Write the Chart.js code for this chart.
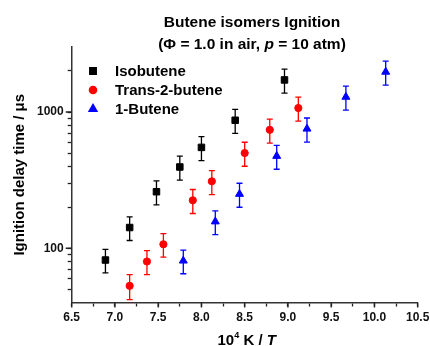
<!DOCTYPE html>
<html lang="en">
<head>
    <meta charset="UTF-8">
    <title>Butene isomers Ignition</title>
    <script src="https://cdn.jsdelivr.net/npm/chart.js@4.4.0/dist/chart.umd.min.js"></script>
    <style>
        html, body {
            margin: 0;
            padding: 0;
            background: #fff;
        }
        .chart-box {
            position: relative;
            width: 430px;
            height: 346px;
        }
    </style>
</head>
<body>
    <div class="chart-box">
        <canvas id="ignChart"></canvas>
    </div>

    <script>
        const FONT = '"Liberation Sans", Arial, Helvetica, sans-serif';

        // 10^4 K / T values and ignition delay times (us) with +/- errors
        const isoX = [6.89, 7.17, 7.48, 7.75, 8.00, 8.39, 8.96];
        const isoY = [82, 142, 260, 395, 550, 870, 1720];
        const isoErr = [16, 28, 52, 79, 110, 174, 344];

        const transX = [7.17, 7.37, 7.56, 7.90, 8.12, 8.50, 8.79, 9.12];
        const transY = [53, 80, 107, 225, 310, 500, 740, 1070];
        const transErr = [11, 16, 21, 45, 62, 100, 148, 214];

        const butX = [7.79, 8.16, 8.44, 8.87, 9.22, 9.67, 10.13];
        const butY = [81, 157, 250, 475, 753, 1290, 1970];
        const butErr = [16, 31, 50, 95, 151, 258, 394];

        const seriesNames = ['Isobutene', 'Trans-2-butene', '1-Butene'];

        // axis ticks: labelled ones and the unlabelled minor ones
        const xTicks = [6.5, 7.0, 7.5, 8.0, 8.5, 9.0, 9.5, 10.0, 10.5];
        const xMinorTicks = [6.75, 7.25, 7.75, 8.25, 8.75, 9.25, 9.75, 10.25];
        const yTicks = [100, 1000];
        const yMinorTicks = [50, 60, 70, 80, 90, 200, 300, 400, 500, 600, 700, 800, 900, 2000];

        function toPoints(xs, ys, errs) {
            return xs.map((x, i) => ({ x: x, y: ys[i], err: errs[i] }));
        }

        function tickList(major, minor) {
            return major.concat(minor).sort((a, b) => a - b)
                .map(v => ({ value: v, major: major.includes(v) }));
        }

        // error bars, drawn under the markers
        const errorBars = {
            id: 'errorBars',
            beforeDatasetsDraw(chart) {
                const ctx = chart.ctx;
                const xs = chart.scales.x, ys = chart.scales.y;
                ctx.save();
                chart.data.datasets.forEach(ds => {
                    ctx.strokeStyle = ds.backgroundColor;
                    ctx.lineWidth = 1.3;
                    ds.data.forEach(p => {
                        const px = xs.getPixelForValue(p.x);
                        const top = ys.getPixelForValue(p.y + p.err);
                        const bot = ys.getPixelForValue(p.y - p.err);
                        ctx.beginPath();
                        ctx.moveTo(px, top);
                        ctx.lineTo(px, bot);
                        ctx.moveTo(px - 3, top);
                        ctx.lineTo(px + 3, top);
                        ctx.moveTo(px - 3, bot);
                        ctx.lineTo(px + 3, bot);
                        ctx.stroke();
                    });
                });
                ctx.restore();
            }
        };

        // draws a run of [text, italic] pieces centred on cx
        function drawRuns(ctx, runs, cx, y, size) {
            const fontOf = it => (it ? 'italic ' : '') + 'bold ' + size + 'px ' + FONT;
            let total = 0;
            runs.forEach(r => {
                ctx.font = fontOf(r[1]);
                total += ctx.measureText(r[0]).width;
            });
            let x = cx - total / 2;
            runs.forEach(r => {
                ctx.font = fontOf(r[1]);
                ctx.fillText(r[0], x, y);
                x += ctx.measureText(r[0]).width;
            });
        }

        // longer marks for labelled ticks, title, x-axis title and the legend
        const decorations = {
            id: 'decorations',
            afterDraw(chart) {
                const ctx = chart.ctx;
                const xs = chart.scales.x, ys = chart.scales.y;
                const area = chart.chartArea;
                ctx.save();
                ctx.strokeStyle = '#222';
                ctx.lineWidth = 1.4;
                ctx.beginPath();
                xTicks.forEach(v => {
                    const px = xs.getPixelForValue(v);
                    ctx.moveTo(px, area.bottom);
                    ctx.lineTo(px, area.bottom + 5);
                });
                yTicks.forEach(v => {
                    const py = ys.getPixelForValue(v);
                    ctx.moveTo(area.left, py);
                    ctx.lineTo(area.left - 6, py);
                });
                ctx.stroke();

                ctx.fillStyle = '#000';
                ctx.textAlign = 'left';
                ctx.textBaseline = 'alphabetic';

                drawRuns(ctx, [['Butene isomers Ignition', false]], 252, 26.5, 15.5);
                drawRuns(ctx, [['(\u03A6 = 1.0 in air, ', false], ['p', true], [' = 10 atm)', false]], 252, 49, 15.5);

                // 10^4 K / T
                const cx = (area.left + area.right) / 2 + 2;
                const base = 345;
                const big = 'bold 15px ' + FONT;
                const sup = 'bold 9px ' + FONT;
                const ital = 'italic bold 15px ' + FONT;
                ctx.font = big;
                const w1 = ctx.measureText('10').width;
                const w3 = ctx.measureText(' K / ').width;
                ctx.font = sup;
                const w2 = ctx.measureText('4').width;
                ctx.font = ital;
                const w4 = ctx.measureText('T').width;
                let x = cx - (w1 + w2 + w3 + w4) / 2;
                ctx.font = big;
                ctx.fillText('10', x, base);
                x += w1;
                ctx.font = sup;
                ctx.fillText('4', x, base - 7);
                x += w2;
                ctx.font = big;
                ctx.fillText(' K / ', x, base);
                x += w3;
                ctx.font = ital;
                ctx.fillText('T', x, base);

                // legend
                const rows = [71, 90, 109];
                ctx.font = 'bold 15px ' + FONT;
                ctx.textBaseline = 'middle';
                chart.data.datasets.forEach((ds, i) => {
                    ctx.fillStyle = ds.backgroundColor;
                    ctx.strokeStyle = ds.borderColor;
                    Chart.helpers.drawPoint(ctx, {
                        pointStyle: ds.pointStyle,
                        radius: ds.pointRadius,
                        rotation: 0,
                        borderWidth: ds.borderWidth
                    }, 93, rows[i]);
                    ctx.fillStyle = '#000';
                    ctx.fillText(ds.label, 115, rows[i] + 1);
                });
                ctx.restore();
            }
        };

        const axisGrid = {
            display: true,
            drawOnChartArea: false,
            drawTicks: true,
            tickLength: 4,
            tickWidth: 1.3,
            tickColor: '#222'
        };

        const ctx = document.getElementById('ignChart').getContext('2d');
        const chart = new Chart(ctx, {
            type: 'scatter',
            data: {
                datasets: [{
                    label: seriesNames[0],
                    data: toPoints(isoX, isoY, isoErr),
                    pointStyle: 'rect',
                    pointRadius: 4.6,
                    backgroundColor: '#000000',
                    borderColor: '#000000',
                    borderWidth: 1
                }, {
                    label: seriesNames[1],
                    data: toPoints(transX, transY, transErr),
                    pointStyle: 'circle',
                    pointRadius: 3.6,
                    backgroundColor: '#ff0000',
                    borderColor: '#ff0000',
                    borderWidth: 1
                }, {
                    label: seriesNames[2],
                    data: toPoints(butX, butY, butErr),
                    pointStyle: 'triangle',
                    pointRadius: 4.6,
                    backgroundColor: '#0000ff',
                    borderColor: '#0000ff',
                    borderWidth: 1
                }]
            },
            options: {
                responsive: true,
                maintainAspectRatio: false,
                animation: false,
                events: [],
                layout: {
                    padding: { top: 47, right: 12.3, bottom: 0, left: 0 }
                },
                plugins: {
                    legend: { display: false },
                    tooltip: { enabled: false }
                },
                scales: {
                    x: {
                        type: 'linear',
                        min: 6.5,
                        max: 10.5,
                        grid: axisGrid,
                        border: { display: true, color: '#333', width: 1.5 },
                        afterBuildTicks: scale => {
                            scale.ticks = tickList(xTicks, xMinorTicks);
                        },
                        afterFit: scale => {
                            scale.height = 43.5;
                            scale.paddingLeft = 0;
                            scale.paddingRight = 0;
                        },
                        ticks: {
                            padding: 4,
                            color: '#111',
                            autoSkip: false,
                            font: { family: FONT, size: 12, weight: 'bold' },
                            maxRotation: 0,
                            callback: v => xTicks.includes(v) ? Number(v).toFixed(1) : ''
                        }
                    },
                    y: {
                        type: 'logarithmic',
                        min: 40,
                        max: 3000,
                        grid: axisGrid,
                        border: { display: true, color: '#333', width: 1.5 },
                        afterBuildTicks: scale => {
                            scale.ticks = tickList(yTicks, yMinorTicks);
                        },
                        afterFit: scale => {
                            scale.width = 71.7;
                            scale.paddingTop = 0;
                            scale.paddingBottom = 0;
                        },
                        ticks: {
                            padding: 4,
                            color: '#111',
                            autoSkip: false,
                            font: { family: FONT, size: 12, weight: 'bold' },
                            callback: v => yTicks.includes(v) ? String(v) : ''
                        },
                        title: {
                            display: true,
                            text: 'Ignition delay time / \u03BCs',
                            color: '#000',
                            font: { family: FONT, size: 15, weight: 'bold' },
                            padding: { top: 11, bottom: 0 }
                        }
                    }
                }
            },
            plugins: [errorBars, decorations]
        });
    </script>
</body>
</html>
